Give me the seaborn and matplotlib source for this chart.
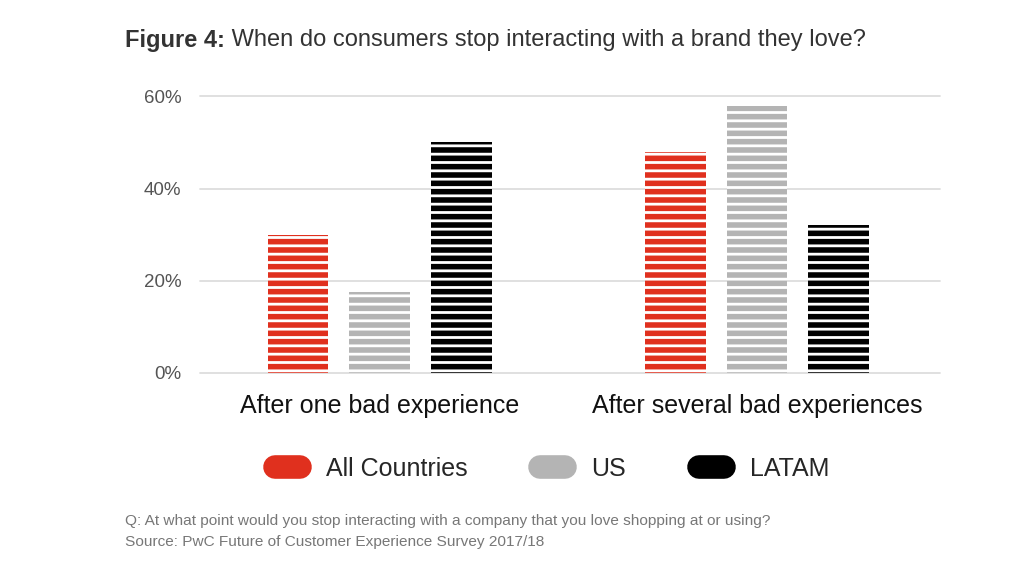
import matplotlib
matplotlib.use('Agg')
import matplotlib.pyplot as plt
import seaborn as sns
import pandas as pd
from matplotlib.lines import Line2D

categories = ['After one bad experience', 'After several bad experiences']
series = ['All Countries', 'US', 'LATAM']
all_countries = [30, 48]
us = [17.5, 58]
latam = [50, 32]
yticks = [0, 20, 40, 60]
ytick_labels = ['0%', '20%', '40%', '60%']
colors = ['#e0301e', '#b4b4b4', '#000000']
title_bold = 'Figure 4:'
title_rest = ' When do consumers stop interacting with a brand they love?'
note_lines = ['Q: At what point would you stop interacting with a company that you love shopping at or using?',
              'Source: PwC Future of Customer Experience Survey 2017/18']

sns.set_theme(style='white')
plt.rcParams['font.family'] = ['Liberation Sans', 'DejaVu Sans']
plt.rcParams['hatch.linewidth'] = 2.0

rows = []
for s, vals in zip(series, [all_countries, us, latam]):
    for c, v in zip(categories, vals):
        rows.append({'category': c, 'series': s, 'value': v})
df = pd.DataFrame(rows)

fig = plt.figure(figsize=(10.24, 5.8), dpi=100)
ax = fig.add_axes([0.195, 0.357, 0.723, 0.477])
sns.barplot(data=df, x='category', y='value', hue='series', order=categories,
            hue_order=series, palette=colors, width=0.65, gap=0.256,
            saturation=1, legend=False, ax=ax, errorbar=None)
for p in ax.patches:
    p.set_hatch('--')
    p.set_edgecolor('white')
    p.set_linewidth(0)

ax.set_xlim(-0.477, 1.485)
ax.set_ylim(0, 60)
ax.set_yticks(yticks)
ax.set_yticklabels(ytick_labels)
ax.yaxis.grid(True, color='#dddddd', lw=1.3)
ax.set_axisbelow(True)
for g in ax.get_ygridlines():
    g.set_clip_on(False)
ax.set_xlabel('')
ax.set_ylabel('')
sns.despine(ax=ax, left=True, bottom=True)
ax.tick_params(axis='y', length=0, pad=13, labelsize=13.5, labelcolor='#555555')
ax.tick_params(axis='x', length=0, pad=15.5, labelsize=18, labelcolor='#111111')

handles = [Line2D([0], [0], color=c, lw=17, solid_capstyle='round') for c in colors]
fig.legend(handles, series, loc='center', bbox_to_anchor=(552 / 1024, 1 - 469 / 580),
           ncol=3, frameon=False, fontsize=18, handlelength=1.0, handletextpad=1.05,
           columnspacing=2.9)

t1 = fig.text(125 / 1024, 1 - 40 / 580, title_bold, fontsize=17, fontweight='bold',
              color='#333333', va='center', ha='left')
fig.canvas.draw()
bb = t1.get_window_extent()
fig.text(bb.x1 / fig.bbox.width, 1 - 40 / 580, title_rest, fontsize=17,
         color='#333333', va='center', ha='left')

fig.text(125 / 1024, 1 - 521 / 580, note_lines[0], fontsize=11.1, color='#777777', va='center')
fig.text(125 / 1024, 1 - 542 / 580, note_lines[1], fontsize=11.1, color='#777777', va='center')

fig.savefig('out.png', dpi=100)
